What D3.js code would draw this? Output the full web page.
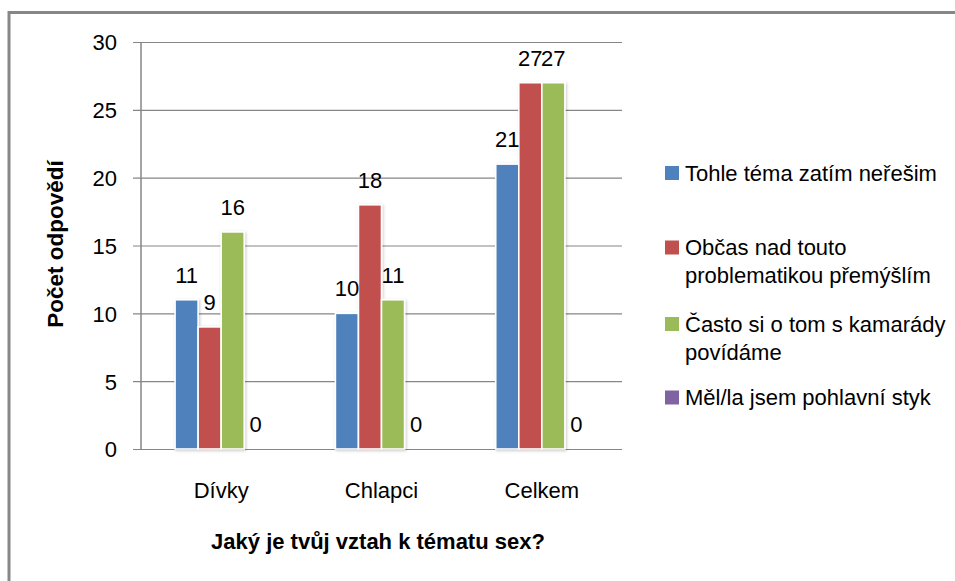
<!DOCTYPE html>
<html>
<head>
<meta charset="utf-8">
<script src="https://cdn.jsdelivr.net/npm/d3@7"></script>
<style>
  body { margin: 0; background: #fff; }
  svg text { font-family: "Liberation Sans", Arial, sans-serif; fill: #000; }
</style>
</head>
<body>
<svg id="chart" width="955" height="581"></svg>
<script>
// Data
const categories = ['Dívky', 'Chlapci', 'Celkem'];
const seriesNames = [
  'Tohle téma zatím neřešim',
  'Občas nad touto problematikou přemýšlím',
  'Často si o tom s kamarády povídáme',
  'Měl/la jsem pohlavní styk'
];
const legendLines = [
  ['Tohle téma zatím neřešim'],
  ['Občas nad touto', 'problematikou přemýšlím'],
  ['Často si o tom s kamarády', 'povídáme'],
  ['Měl/la jsem pohlavní styk']
];
const seriesColors = ['#4F81BD', '#C0504D', '#9BBB59', '#8064A2'];
const values = [
  [11, 10, 21],  // Tohle téma zatím neřešim
  [9, 18, 27],   // Občas nad touto problematikou přemýšlím
  [16, 11, 27],  // Často si o tom s kamarády povídáme
  [0, 0, 0]      // Měl/la jsem pohlavní styk
];
const yTicks = [0, 5, 10, 15, 20, 25, 30];

const svg = d3.select('#chart');
const fontSize = 22;

// drop shadow for the bars
const defs = svg.append('defs');
const filt = defs.append('filter').attr('id', 'shadow')
  .attr('x', '-20%').attr('y', '-5%').attr('width', '140%').attr('height', '110%');
filt.append('feDropShadow')
  .attr('dx', 1).attr('dy', 1).attr('stdDeviation', 1.5)
  .attr('flood-color', '#000').attr('flood-opacity', 0.22);

// outer frame (only top and left edges are visible)
svg.append('path')
  .attr('d', 'M9,581 V12.5 H955')
  .attr('fill', 'none')
  .attr('stroke', '#878787')
  .attr('stroke-width', 3);

const plot = { left: 141, right: 622, top: 42, bottom: 449 };

const x = d3.scaleBand()
  .domain(categories)
  .range([plot.left, plot.right])
  .paddingInner(0.425)
  .paddingOuter(0.2125);

const xs = d3.scaleBand()
  .domain(d3.range(seriesNames.length))
  .range([0, x.bandwidth()]);

const y = d3.scaleLinear().domain([0, 30]).range([plot.bottom, plot.top]);

// gridlines + tick labels
const yAxis = d3.axisLeft(y)
  .tickValues(yTicks)
  .tickSize(-(plot.right - plot.left))
  .tickSizeOuter(0)
  .tickPadding(24);

const gy = svg.append('g')
  .attr('transform', `translate(${plot.left},0)`)
  .call(yAxis);
gy.select('.domain').remove();
gy.selectAll('.tick line')
  .attr('x1', -8)
  .attr('stroke', '#868686')
  .attr('stroke-width', 1.2);
gy.selectAll('.tick text')
  .attr('font-size', fontSize)
  .attr('dy', '0.36em');

// vertical axis line
svg.append('line')
  .attr('x1', plot.left).attr('x2', plot.left)
  .attr('y1', plot.top).attr('y2', plot.bottom)
  .attr('stroke', '#868686')
  .attr('stroke-width', 1.5);

// bars
const groups = svg.append('g').selectAll('g')
  .data(categories)
  .join('g')
  .attr('transform', d => `translate(${x(d)},0)`)
  .attr('filter', 'url(#shadow)');

groups.each(function (cat, ci) {
  const g = d3.select(this);
  seriesNames.forEach((s, si) => {
    const v = values[si][ci];
    if (v > 0) {
      g.append('rect')
        .attr('x', xs(si))
        .attr('y', y(v))
        .attr('width', xs.bandwidth())
        .attr('height', y(0) - y(v))
        .attr('fill', seriesColors[si])
        .attr('stroke', '#fff')
        .attr('stroke-width', 1.6);
    }
  });
});

// value labels
const labels = svg.append('g');
categories.forEach((cat, ci) => {
  seriesNames.forEach((s, si) => {
    const v = values[si][ci];
    labels.append('text')
      .attr('x', x(cat) + xs(si) + xs.bandwidth() / 2)
      .attr('y', y(v) - 17)
      .attr('text-anchor', 'middle')
      .attr('font-size', fontSize)
      .text(v);
  });
});

// category labels
svg.append('g').selectAll('text')
  .data(categories)
  .join('text')
  .attr('x', d => x(d) + x.bandwidth() / 2)
  .attr('y', 498)
  .attr('text-anchor', 'middle')
  .attr('font-size', fontSize)
  .text(d => d);

// axis titles
svg.append('text')
  .attr('x', 378)
  .attr('y', 549)
  .attr('text-anchor', 'middle')
  .attr('font-size', fontSize)
  .attr('font-weight', 'bold')
  .text('Jaký je tvůj vztah k tématu sex?');

svg.append('text')
  .attr('transform', 'translate(63,244) rotate(-90)')
  .attr('text-anchor', 'middle')
  .attr('font-size', 22.5)
  .attr('font-weight', 'bold')
  .text('Počet odpovědí');

// legend
const legendY = [173, 247.5, 324, 397.5];
const legend = svg.append('g');
legendLines.forEach((lines, i) => {
  const li = legend.append('g').attr('transform', `translate(665,${legendY[i]})`);
  li.append('rect')
    .attr('x', 0).attr('y', -7)
    .attr('width', 14).attr('height', 14)
    .attr('fill', seriesColors[i]);
  lines.forEach((t, k) => {
    li.append('text')
      .attr('x', 20)
      .attr('y', k * 28)
      .attr('dy', '0.36em')
      .attr('font-size', fontSize)
      .text(t);
  });
});
</script>
</body>
</html>
